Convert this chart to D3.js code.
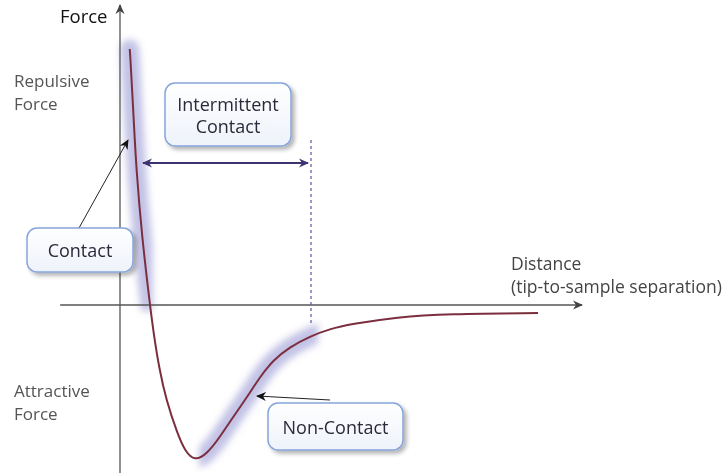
<!doctype html>
<html lang="en">
<head>
    <meta charset="UTF-8">
    <title>Force vs distance</title>
    <style>
        body { margin: 0; background: #fff; }
        text { font-family: "Open Sans", "Noto Sans", sans-serif; }
        .lbl { fill: #555; font-size: 17px; }
        .box-text { fill: #2a2a3a; font-size: 18px; text-anchor: middle; }
    </style>
</head>
<body>
    <svg width="725" height="473"></svg>
    <script src="https://cdn.jsdelivr.net/npm/d3@7"></script>
    <script>
        // tip-to-sample separation (arbitrary units) and force
        const distance = [0.22, 0.23, 0.30, 0.37, 0.50, 0.68, 0.77, 0.89, 1.05, 1.30, 1.48, 1.70, 1.98, 2.27, 2.57, 2.89, 3.18, 3.48, 3.86, 4.32, 4.77, 5.23, 6.30, 7.43, 9.50, 9.50];
        const force    = [6.40, 6.30, 4.88, 3.38, 1.70, 0.00, -0.75, -1.58, -2.38, -3.20, -3.66, -3.90, -3.72, -3.30, -2.80, -2.30, -1.80, -1.38, -1.05, -0.78, -0.60, -0.48, -0.30, -0.22, -0.20, -0.20];

        // regions highlighted along the curve
        const contactRange = [0.1, 0.74];
        const nonContactRange = [1.8, 4.5];

        const svg = d3.select("svg");

        const x = d3.scaleLinear().domain([0, 10]).range([120, 560]);
        const y = d3.scaleLinear().domain([-4, 6]).range([465, 65]);

        const pts = distance.map((d, i) => [d, force[i]]);
        const line = d3.line()
            .x(d => x(d[0]))
            .y(d => y(d[1]))
            .curve(d3.curveBasis);

        const defs = svg.append("defs");
        defs.append("filter").attr("id", "glow")
            .attr("x", "-50%").attr("y", "-50%").attr("width", "200%").attr("height", "200%")
            .append("feGaussianBlur").attr("stdDeviation", 3.5);

        const shadow = defs.append("filter").attr("id", "shadow")
            .attr("x", "-20%").attr("y", "-20%").attr("width", "150%").attr("height", "160%");
        shadow.append("feGaussianBlur").attr("in", "SourceAlpha").attr("stdDeviation", 2);
        shadow.append("feOffset").attr("dx", 3).attr("dy", 3).attr("result", "off");
        shadow.append("feComponentTransfer").append("feFuncA").attr("type", "linear").attr("slope", 0.3);
        const merge = shadow.append("feMerge");
        merge.append("feMergeNode");
        merge.append("feMergeNode").attr("in", "SourceGraphic");

        const grad = defs.append("linearGradient").attr("id", "boxfill")
            .attr("x1", 0).attr("y1", 0).attr("x2", 0).attr("y2", 1);
        grad.append("stop").attr("offset", "0%").attr("stop-color", "#ffffff");
        grad.append("stop").attr("offset", "100%").attr("stop-color", "#eef2fa");

        function arrowMarker(id, color) {
            defs.append("marker").attr("id", id)
                .attr("viewBox", "0 0 10 10").attr("refX", 9).attr("refY", 5)
                .attr("markerWidth", 10).attr("markerHeight", 10)
                .attr("markerUnits", "userSpaceOnUse")
                .attr("orient", "auto-start-reverse")
                .append("path").attr("d", "M0,0.5 L10,5 L0,9.5 L3,5 Z").attr("fill", color);
        }
        arrowMarker("arrBlack", "#111");
        arrowMarker("arrAxis", "#444");
        arrowMarker("arrPurple", "#3b3470");

        // clip regions for the highlighted parts of the curve
        defs.append("clipPath").attr("id", "clipContact").append("rect")
            .attr("x", x(contactRange[0]) - 20).attr("y", 0)
            .attr("width", x(contactRange[1]) - x(contactRange[0]) + 20).attr("height", y(-0.15));
        defs.append("clipPath").attr("id", "clipNon").append("rect")
            .attr("x", x(nonContactRange[0])).attr("y", 0)
            .attr("width", x(nonContactRange[1]) - x(nonContactRange[0])).attr("height", 473);

        // glow behind the curve
        const glow = svg.append("g").attr("filter", "url(#glow)");
        glow.append("g").attr("clip-path", "url(#clipContact)")
            .append("path").datum(pts).attr("d", line)
            .attr("fill", "none").attr("stroke", "#c2c2e6").attr("stroke-width", 19)
            .attr("stroke-linecap", "round");
        glow.append("g").attr("clip-path", "url(#clipNon)")
            .append("path").datum(pts).attr("d", line)
            .attr("fill", "none").attr("stroke", "#c2c2e6").attr("stroke-width", 19);

        // axes
        svg.append("line")
            .attr("x1", x(-1.36)).attr("x2", x(10.5))
            .attr("y1", y(0)).attr("y2", y(0))
            .attr("stroke", "#555").attr("stroke-width", 1.3)
            .attr("marker-end", "url(#arrAxis)");
        svg.append("line")
            .attr("x1", x(0)).attr("x2", x(0))
            .attr("y1", y(-4.3)).attr("y2", y(7.5))
            .attr("stroke", "#555").attr("stroke-width", 1.3)
            .attr("marker-end", "url(#arrAxis)");

        // the force curve
        svg.append("path").datum(pts).attr("d", line)
            .attr("fill", "none").attr("stroke", "#7b2f3e").attr("stroke-width", 2);

        // intermittent contact range
        svg.append("line")
            .attr("x1", 311).attr("x2", 311).attr("y1", 140).attr("y2", 324)
            .attr("stroke", "#6a5fae").attr("stroke-width", 1.3).attr("stroke-dasharray", "3,3");
        svg.append("line")
            .attr("x1", 143).attr("x2", 308).attr("y1", 163).attr("y2", 163)
            .attr("stroke", "#3b3470").attr("stroke-width", 2)
            .attr("marker-start", "url(#arrPurple)").attr("marker-end", "url(#arrPurple)");

        // callout arrows
        svg.append("line").attr("x1", 79).attr("y1", 228).attr("x2", 128).attr("y2", 140)
            .attr("stroke", "#222").attr("stroke-width", 1)
            .attr("marker-end", "url(#arrBlack)");
        svg.append("line").attr("x1", 330).attr("y1", 400).attr("x2", 257).attr("y2", 396)
            .attr("stroke", "#222").attr("stroke-width", 1)
            .attr("marker-end", "url(#arrBlack)");

        // callout boxes
        function box(bx, by, w, h, lines) {
            const g = svg.append("g");
            g.append("rect").attr("x", bx).attr("y", by).attr("width", w).attr("height", h)
                .attr("rx", 10).attr("fill", "url(#boxfill)")
                .attr("stroke", "#86a5dc").attr("stroke-width", 1.5)
                .attr("filter", "url(#shadow)");
            const lh = 22;
            const y0 = by + h / 2 - (lines.length - 1) * lh / 2 + 7;
            lines.forEach((t, i) => {
                g.append("text").attr("class", "box-text")
                    .attr("x", bx + w / 2).attr("y", y0 + i * lh).text(t);
            });
        }
        box(165, 83, 126, 63, ["Intermittent", "Contact"]);
        box(27, 228, 106, 44, ["Contact"]);
        box(268, 403, 135, 47, ["Non-Contact"]);

        // axis labels
        svg.append("text").attr("x", 60).attr("y", 23).attr("fill", "#111")
            .style("font-size", "18.5px").text("Force");
        svg.append("text").attr("class", "lbl").attr("x", 14).attr("y", 87).text("Repulsive");
        svg.append("text").attr("class", "lbl").attr("x", 14).attr("y", 110).text("Force");
        svg.append("text").attr("class", "lbl").attr("x", 14).attr("y", 397).text("Attractive");
        svg.append("text").attr("class", "lbl").attr("x", 14).attr("y", 420).text("Force");
        svg.append("text").attr("class", "lbl").attr("x", 511).attr("y", 270)
            .style("fill", "#444").style("font-size", "17.5px").text("Distance");
        svg.append("text").attr("class", "lbl").attr("x", 511).attr("y", 293)
            .style("fill", "#444").style("font-size", "17.5px").text("(tip-to-sample separation)");
    </script>
</body>
</html>
